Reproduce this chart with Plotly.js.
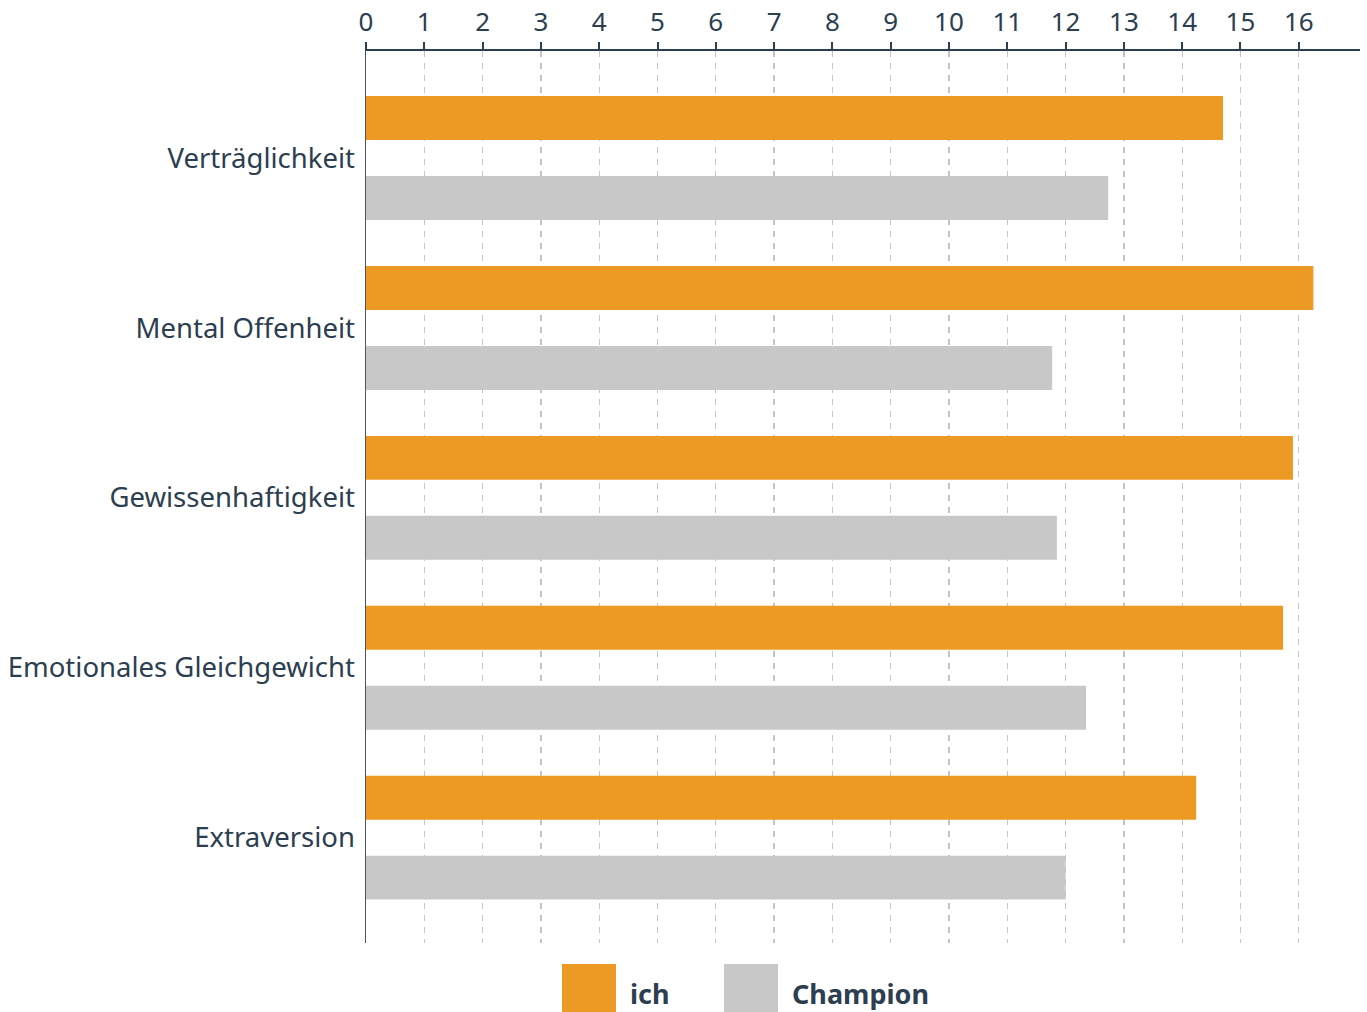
<!DOCTYPE html>
<html>
<head>
<meta charset="utf-8">
<script src="https://cdn.plot.ly/plotly-3.0.1.min.js"></script>
<style>html,body{margin:0;padding:0;background:#fff;}#chart{width:1367px;height:1012px;}</style>
</head>
<body>
<div id="chart"></div>
<script>
const categories = ["Verträglichkeit", "Mental Offenheit", "Gewissenhaftigkeit", "Emotionales Gleichgewicht", "Extraversion"];
const ichValues = [14.7, 16.25, 15.9, 15.73, 14.24];
const championValues = [12.73, 11.77, 11.85, 12.35, 12.0];
const tickValues = [0,1,2,3,4,5,6,7,8,9,10,11,12,13,14,15,16];
const seriesNames = ["ich", "Champion"];
const seriesColors = ["#ED9A25", "#C8C8C8"];

const W = 1367, H = 1012;
const M = {l: 366, r: 7, t: 51, b: 69};
const pw = W - M.l - M.r, ph = H - M.t - M.b;
const px = x => (x - M.l) / pw;
const py = y => (H - M.b - y) / ph;
const textColor = "#2C3E50";

const traces = [
  {type: "bar", orientation: "h", name: seriesNames[0], y: categories, x: ichValues,
   marker: {color: seriesColors[0]}, hoverinfo: "x+y"},
  {type: "bar", orientation: "h", name: seriesNames[1], y: categories, x: championValues,
   marker: {color: seriesColors[1]}, hoverinfo: "x+y"}
];

const legendFont = {family: "'Noto Sans', 'Open Sans', sans-serif", size: 27, color: textColor, weight: 700};
const shapes = [
  {type: "rect", xref: "paper", yref: "paper", x0: px(562), x1: px(616), y0: py(964), y1: py(1012),
   fillcolor: seriesColors[0], line: {width: 0}},
  {type: "rect", xref: "paper", yref: "paper", x0: px(724), x1: px(778), y0: py(964), y1: py(1012),
   fillcolor: seriesColors[1], line: {width: 0}}
];
const annotations = [
  {xref: "paper", yref: "paper", x: px(629), y: py(993), xanchor: "left", yanchor: "middle",
   text: "<b>" + seriesNames[0] + "</b>", showarrow: false, font: legendFont, borderpad: 0},
  {xref: "paper", yref: "paper", x: px(791), y: py(993), xanchor: "left", yanchor: "middle",
   text: "<b>" + seriesNames[1] + "</b>", showarrow: false, font: legendFont, borderpad: 0}
];

const layout = {
  width: W, height: H,
  margin: M,
  paper_bgcolor: "#fff", plot_bgcolor: "#fff",
  showlegend: false,
  barmode: "group",
  bargap: 0.059,
  bargroupgap: 0.45,
  font: {family: "'Noto Sans', 'Open Sans', sans-serif", color: textColor},
  xaxis: {
    side: "top", range: [0, 17.05], tickvals: tickValues, ticktext: tickValues.map(String),
    showgrid: true, gridcolor: "#C4C4C4", griddash: "6px,6px", gridwidth: 1.3,
    showline: true, linecolor: "#2C3E50", linewidth: 2.5,
    ticks: "outside", ticklen: 7, tickwidth: 2, tickcolor: "#2C3E50",
    tickfont: {size: 26, color: textColor}, zeroline: false, fixedrange: true
  },
  yaxis: {
    range: [4.62, -0.63], type: "category",
    showgrid: false, showline: true, linecolor: "#4A5560", linewidth: 1.5,
    ticks: "", ticklen: 0, tickfont: {size: 27.5, color: textColor}, ticklabelstandoff: 4,
    fixedrange: true
  },
  shapes: shapes,
  annotations: annotations
};

Plotly.newPlot("chart", traces, layout, {displayModeBar: false, staticPlot: true});
</script>
</body>
</html>
